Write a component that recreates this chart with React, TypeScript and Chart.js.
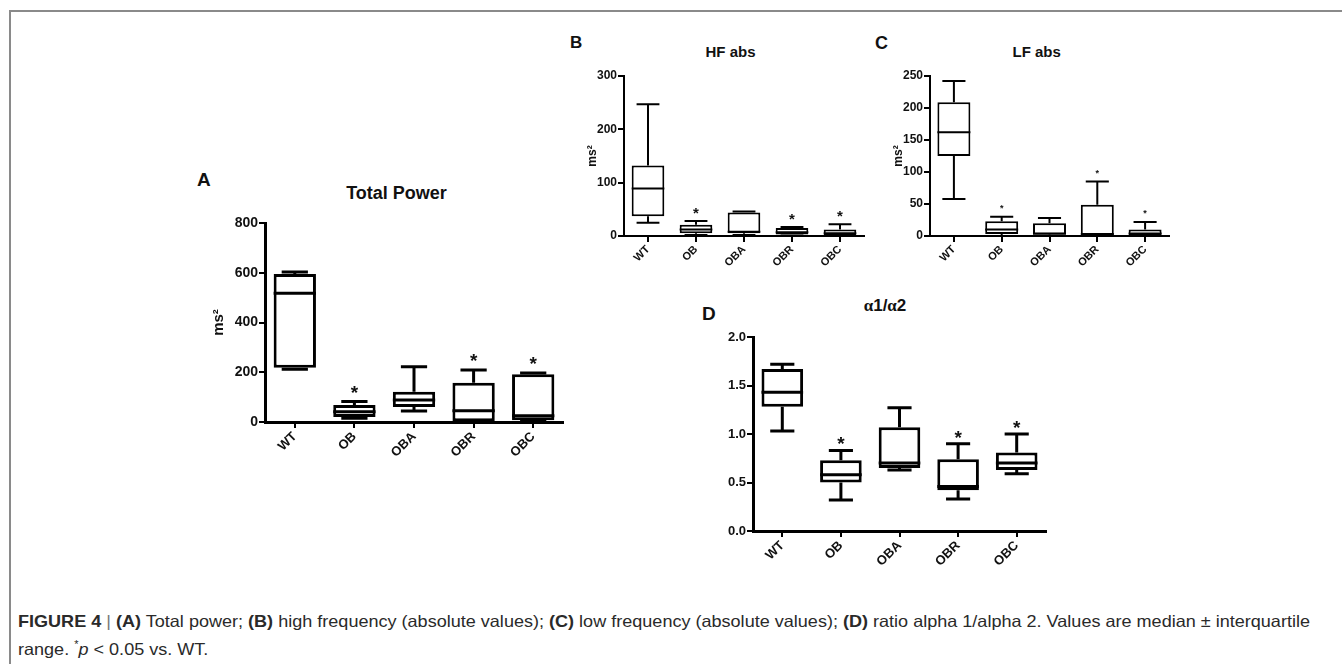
import React, { useEffect, useLayoutEffect, useRef } from 'react';
import { Chart, registerables } from 'chart.js';

Chart.register(...registerables);

// ---------- DATA ----------
const categories = ['WT', 'OB', 'OBA', 'OBR', 'OBC'];

// (A) Total Power
const tpMin = [212, 15, 44, 0, 3];
const tpQ1 = [218, 20, 60, 3, 7];
const tpMed = [518, 41, 88, 45, 25];
const tpQ3 = [595, 68, 122, 158, 192];
const tpMax = [603, 82, 222, 209, 197];
const tpSig = [false, true, false, true, true];
const tpTicks = [0, 200, 400, 600, 800];

// (B) HF abs
const hfMin = [25, 2, 2, 1, 1];
const hfQ1 = [37, 5, 5, 3, 2];
const hfMed = [89, 12, 8, 7, 5];
const hfQ3 = [132, 21, 44, 15, 12];
const hfMax = [247, 28, 46, 17, 22];
const hfSig = [false, true, false, true, true];
const hfTicks = [0, 100, 200, 300];

// (C) LF abs
const lfMin = [58, 0, 0, 0, 0];
const lfQ1 = [125, 3, 2, 1, 1];
const lfMed = [162, 10, 4, 3, 4];
const lfQ3 = [209, 23, 20, 49, 10];
const lfMax = [242, 30, 28, 85, 22];
const lfSig = [false, true, false, true, true];
const lfTicks = [0, 50, 100, 150, 200, 250];

// (D) alpha1/alpha2
const arMin = [1.03, 0.32, 0.63, 0.33, 0.59];
const arQ1 = [1.28, 0.5, 0.65, 0.42, 0.63];
const arMed = [1.43, 0.58, 0.7, 0.46, 0.7];
const arQ3 = [1.67, 0.73, 1.07, 0.74, 0.81];
const arMax = [1.72, 0.83, 1.27, 0.9, 1.0];
const arSig = [false, true, false, true, true];
const arTicks = [0, 0.5, 1.0, 1.5, 2.0];

const FONT = "'Liberation Sans', Arial, sans-serif";

type PanelProps = {
  L: number; T: number; R: number; B: number;
  ml: number; mt: number; mr: number; mb: number;
  min: number[]; q1: number[]; med: number[]; q3: number[]; max: number[]; sig: boolean[];
  ticks: number[]; decimals: number;
  yTitle?: string; yTitleSize?: number;
  tickSize: number; xTickSize: number;
  lw: number; capFrac: number; barPct: number;
  starSize: number; starGap: number;
};

function makeBoxPlugin(p: PanelProps) {
  return {
    id: 'boxWhiskers',
    afterDatasetsDraw(chart: any) {
      const { ctx } = chart;
      const y = chart.scales.y;
      const meta = chart.getDatasetMeta(0);
      ctx.save();
      ctx.strokeStyle = '#000';
      ctx.fillStyle = '#111';
      ctx.lineWidth = p.lw;
      ctx.lineCap = 'butt';
      meta.data.forEach((bar: any, i: number) => {
        const { x, width } = bar.getProps(['x', 'width'], true);
        const capW = width * p.capFrac;
        const pMax = y.getPixelForValue(p.max[i]);
        const pQ3 = y.getPixelForValue(p.q3[i]);
        const pQ1 = y.getPixelForValue(p.q1[i]);
        const pMin = y.getPixelForValue(p.min[i]);
        const pMed = y.getPixelForValue(p.med[i]);
        ctx.beginPath();
        ctx.moveTo(x, pQ3); ctx.lineTo(x, pMax);
        ctx.moveTo(x - capW / 2, pMax); ctx.lineTo(x + capW / 2, pMax);
        ctx.moveTo(x, pQ1); ctx.lineTo(x, pMin);
        ctx.moveTo(x - capW / 2, pMin); ctx.lineTo(x + capW / 2, pMin);
        ctx.moveTo(x - width / 2, pMed); ctx.lineTo(x + width / 2, pMed);
        ctx.stroke();
        if (p.sig[i]) {
          ctx.font = `bold ${p.starSize}px ${FONT}`;
          ctx.textAlign = 'center';
          ctx.textBaseline = 'alphabetic';
          ctx.fillText('*', x, pMax - p.starGap + 0.575 * p.starSize);
        }
      });
      ctx.restore();
    },
  };
}

function BoxPanel(p: PanelProps) {
  const ref = useRef<HTMLCanvasElement>(null);
  const left = p.L - p.ml;
  const top = p.T - p.mt;
  const w = p.R - p.L + p.ml + p.mr;
  const h = p.B - p.T + p.mt + p.mb;
  useEffect(() => {
    const chart = new Chart(ref.current as HTMLCanvasElement, {
      type: 'bar',
      data: {
        labels: categories,
        datasets: [
          {
            data: p.q1.map((v, i) => [v, p.q3[i]]) as any,
            backgroundColor: '#fff',
            borderColor: '#000',
            borderWidth: p.lw,
            borderSkipped: false,
            barPercentage: p.barPct,
            categoryPercentage: 1,
          },
        ],
      },
      options: {
        animation: false,
        responsive: false,
        devicePixelRatio: 1,
        layout: { padding: { left: 0, top: p.mt, right: p.mr, bottom: 0 } },
        plugins: { legend: { display: false }, tooltip: { enabled: false }, title: { display: false } },
        scales: {
          x: {
            type: 'category',
            offset: true,
            grid: { display: true, offset: false, drawOnChartArea: false, drawTicks: true, tickLength: 6, color: '#000', lineWidth: 2 },
            border: { display: true, color: '#000', width: p.lw },
            ticks: {
              autoSkip: false, minRotation: 45, maxRotation: 45, padding: 1, color: '#111',
              font: { family: FONT, size: p.xTickSize, weight: 'bold' },
            },
            afterFit: (s: any) => { s.height = p.mb; s.paddingLeft = 0; s.paddingRight = 0; },
          },
          y: {
            type: 'linear',
            min: p.ticks[0],
            max: p.ticks[p.ticks.length - 1],
            grid: { display: true, drawOnChartArea: false, drawTicks: true, tickLength: 6, color: '#000', lineWidth: 2 },
            border: { display: true, color: '#000', width: p.lw },
            ticks: {
              stepSize: p.ticks[1] - p.ticks[0], padding: 1, color: '#111',
              font: { family: FONT, size: p.tickSize, weight: 'bold' },
              callback: (v: any) => Number(v).toFixed(p.decimals),
            },
            title: p.yTitle
              ? { display: true, text: p.yTitle, color: '#111', padding: 2, font: { family: FONT, size: p.yTitleSize, weight: 'bold' } }
              : { display: false },
            afterFit: (s: any) => { s.width = p.ml; s.paddingTop = 0; s.paddingBottom = 0; },
          },
        },
      } as any,
      plugins: [makeBoxPlugin(p)],
    });
    return () => chart.destroy();
  }, []);
  return (
    <canvas
      ref={ref}
      width={w}
      height={h}
      style={{ position: 'absolute', left, top, width: w, height: h }}
    />
  );
}

function Txt(props: { x: number; base: number; fs: number; center?: boolean; children: React.ReactNode; family?: string }) {
  const { x, base, fs, center, children } = props;
  return (
    <div
      style={{
        position: 'absolute',
        left: x,
        top: base - 0.8465 * fs,
        fontSize: fs,
        lineHeight: 1,
        fontWeight: 'bold',
        fontFamily: props.family || FONT,
        color: '#111',
        whiteSpace: 'nowrap',
        transform: center ? 'translateX(-50%)' : undefined,
      }}
    >
      {children}
    </div>
  );
}

function Caption() {
  const l1 = useRef<HTMLSpanElement>(null);
  const l2 = useRef<HTMLSpanElement>(null);
  useLayoutEffect(() => {
    if (!l1.current || !l2.current) return;
    const w = l1.current.getBoundingClientRect().width;
    const s = 1292 / w;
    l1.current.style.transform = `scaleX(${s})`;
    l2.current.style.transform = `scaleX(${s})`;
  }, []);
  const lineStyle: React.CSSProperties = {
    display: 'inline-block',
    whiteSpace: 'nowrap',
    transformOrigin: '0 0',
  };
  const common: React.CSSProperties = {
    position: 'absolute',
    left: 18,
    fontFamily: FONT,
    fontSize: 16.5,
    lineHeight: '24px',
    color: '#2a2a2a',
  };
  return (
    <>
      <div style={{ ...common, top: 608.5 }}>
        <span ref={l1} style={lineStyle}>
          <b>FIGURE 4</b> <span style={{ color: '#777' }}>|</span> <b>(A)</b> Total power; <b>(B)</b> high frequency (absolute values);{' '}
          <b>(C)</b> low frequency (absolute values); <b>(D)</b> ratio alpha 1/alpha 2. Values are median ± interquartile
        </span>
      </div>
      <div style={{ ...common, top: 632.5 }}>
        <span ref={l2} style={lineStyle}>
          range. <sup style={{ fontSize: 10 }}>*</sup><i>p</i> &lt; 0.05 vs. WT.
        </span>
      </div>
    </>
  );
}

export default function App() {
  const alpha = <span style={{ fontFamily: "'Liberation Serif', serif" }}>α</span>;
  return (
    <div
      style={{
        position: 'fixed',
        left: 0,
        top: 0,
        width: 1342,
        height: 664,
        background: '#fff',
        overflow: 'hidden',
        fontFamily: FONT,
      }}
    >
      {/* frame */}
      <div style={{ position: 'absolute', left: 9, top: 10, width: 1333, height: 2, background: '#8a8a8a' }} />
      <div style={{ position: 'absolute', left: 9, top: 10, width: 2, height: 654, background: '#8a8a8a' }} />

      {/* Panel A */}
      <Txt x={197} base={186} fs={19}>A</Txt>
      <Txt x={396.5} base={199.3} fs={18} center>Total Power</Txt>
      <BoxPanel
        L={265} T={223} R={563} B={422} ml={57} mt={10} mr={15} mb={60}
        min={tpMin} q1={tpQ1} med={tpMed} q3={tpQ3} max={tpMax} sig={tpSig}
        ticks={tpTicks} decimals={0} yTitle="ms²" yTitleSize={15}
        tickSize={14} xTickSize={13} lw={3} capFrac={0.62} barPct={0.71}
        starSize={19} starGap={14}
      />

      {/* Panel B */}
      <Txt x={570} base={48.3} fs={17}>B</Txt>
      <Txt x={730.5} base={56.7} fs={15} center>HF abs</Txt>
      <BoxPanel
        L={624} T={76} R={864} B={236} ml={41} mt={10} mr={15} mb={46}
        min={hfMin} q1={hfQ1} med={hfMed} q3={hfQ3} max={hfMax} sig={hfSig}
        ticks={hfTicks} decimals={0} yTitle="ms²" yTitleSize={12}
        tickSize={12} xTickSize={11} lw={2} capFrac={0.7} barPct={0.68}
        starSize={15} starGap={12}
      />

      {/* Panel C */}
      <Txt x={875} base={49} fs={18}>C</Txt>
      <Txt x={1036.7} base={56.7} fs={15} center>LF abs</Txt>
      <BoxPanel
        L={930} T={76} R={1169} B={236} ml={41} mt={10} mr={15} mb={46}
        min={lfMin} q1={lfQ1} med={lfMed} q3={lfQ3} max={lfMax} sig={lfSig}
        ticks={lfTicks} decimals={0} yTitle="ms²" yTitleSize={12}
        tickSize={12} xTickSize={11} lw={2} capFrac={0.7} barPct={0.69}
        starSize={9} starGap={11}
      />

      {/* Panel D */}
      <Txt x={702} base={320} fs={19}>D</Txt>
      <Txt x={885} base={311.7} fs={17} center>{alpha}1/{alpha}2</Txt>
      <BoxPanel
        L={753} T={337} R={1046} B={531} ml={50} mt={10} mr={15} mb={60}
        min={arMin} q1={arQ1} med={arMed} q3={arQ3} max={arMax} sig={arSig}
        ticks={arTicks} decimals={1}
        tickSize={13} xTickSize={13} lw={3} capFrac={0.58} barPct={0.71}
        starSize={19} starGap={11}
      />

      <Caption />
    </div>
  );
}
